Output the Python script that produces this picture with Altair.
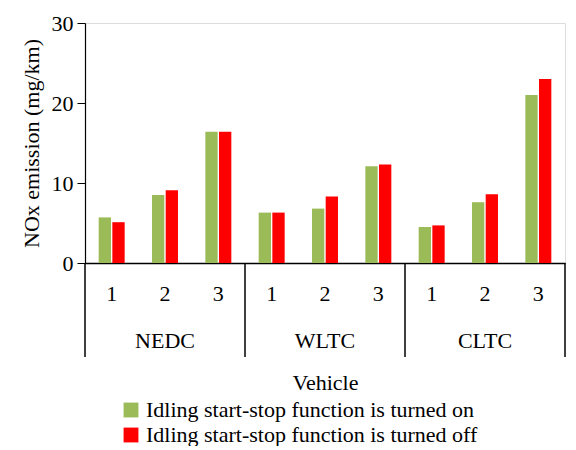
import altair as alt
import pandas as pd

cycles = ["NEDC", "WLTC", "CLTC"]
vehicles = ["1", "2", "3"]
on_vals = [5.7, 8.5, 16.4, 6.3, 6.8, 12.1, 4.5, 7.6, 21.0]
off_vals = [5.1, 9.1, 16.4, 6.3, 8.3, 12.3, 4.7, 8.6, 23.0]
s_on = "Idling start-stop function is turned on"
s_off = "Idling start-stop function is turned off"

keys = [f"{c}-{v}" for c in cycles for v in vehicles]
rows = []
for k, a, b in zip(keys, on_vals, off_vals):
    rows.append({"key": k, "series": s_on, "value": a})
    rows.append({"key": k, "series": s_off, "value": b})
df = pd.DataFrame(rows)

H = 240
F = "Times New Roman, Liberation Serif, serif"
FS = 22
xs = alt.Scale(domain=keys, paddingInner=0, paddingOuter=0)

bars = alt.Chart(df).mark_bar().encode(
    x=alt.X("key:N", scale=xs, sort=keys,
            axis=alt.Axis(title="Vehicle", labelExpr="slice(datum.label, -1)", labelAngle=0,
                          ticks=False, labelPadding=20, titlePadding=68,
                          labelFont=F, titleFont=F, labelFontSize=FS, titleFontSize=FS,
                          labelColor="black", titleColor="black", titleFontWeight="normal",
                          domainColor="black", domainWidth=1.5)),
    xOffset=alt.XOffset("series:N", sort=[s_on, s_off],
                        scale=alt.Scale(paddingInner=0.1, paddingOuter=1.0)),
    y=alt.Y("value:Q", scale=alt.Scale(domain=[0, 30]),
            axis=alt.Axis(title="NOx emission (mg/km)", values=[0, 10, 20, 30], grid=False,
                          labelFont=F, titleFont=F, labelFontSize=FS, titleFontSize=FS,
                          labelColor="black", titleColor="black", titleFontWeight="normal",
                          domainColor="black", tickColor="black", domainWidth=1.2,
                          tickSize=8, labelPadding=4, titlePadding=8)),
    color=alt.Color("series:N", sort=[s_on, s_off],
                    scale=alt.Scale(domain=[s_on, s_off], range=["#9BBB59", "#FF0000"]),
                    legend=alt.Legend(title=None, orient="none", legendX=35, legendY=H + 136,
                                      direction="vertical", symbolType="square", symbolSize=220,
                                      symbolStrokeWidth=0,
                                      labelFont=F, labelFontSize=FS, labelColor="black",
                                      rowPadding=3, labelLimit=600)),
)

sep = pd.DataFrame({"key": ["WLTC-1", "CLTC-1", "CLTC-3"], "bp": [0, 0, 1]})
rules0 = alt.Chart(sep[sep.bp == 0]).mark_rule(color="black", strokeWidth=1.5).encode(
    x=alt.X("key:N", scale=xs, bandPosition=0), y=alt.value(H), y2=alt.value(H + 94))
rules1 = alt.Chart(sep[sep.bp == 1]).mark_rule(color="black", strokeWidth=1.5).encode(
    x=alt.X("key:N", scale=xs, bandPosition=1), y=alt.value(H), y2=alt.value(H + 94))
rule_left = alt.Chart(sep.head(1)).mark_rule(color="black", strokeWidth=1.5).encode(
    x=alt.value(0), y=alt.value(H), y2=alt.value(H + 94))

gl = pd.DataFrame({"key": [f"{c}-2" for c in cycles], "label": cycles})
glabels = alt.Chart(gl).mark_text(font=F, fontSize=FS, color="black", baseline="middle").encode(
    x=alt.X("key:N", scale=xs), y=alt.value(H + 78), text="label:N")

chart = alt.layer(bars, rules0, rules1, rule_left, glabels).properties(
    width=480, height=H
).configure_view(stroke=None).configure(padding={"left": 12, "top": 4, "right": 0, "bottom": 0})

chart.save("out.html", embed_options={"renderer": "svg", "actions": False})
